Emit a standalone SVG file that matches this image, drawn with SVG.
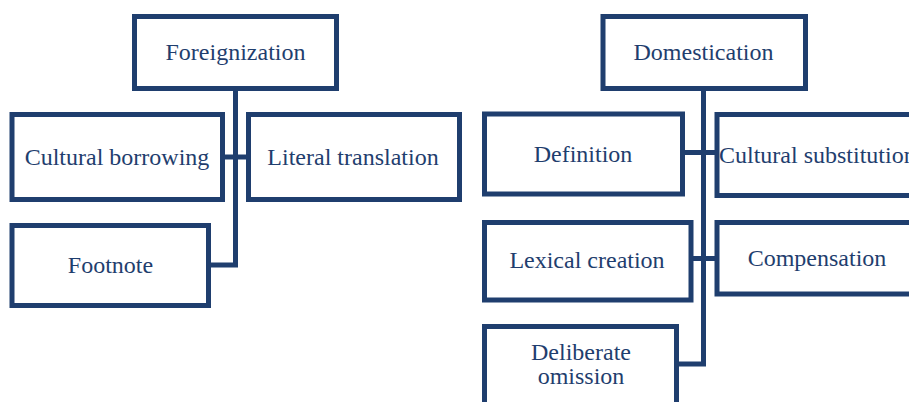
<svg xmlns="http://www.w3.org/2000/svg" width="909" height="402" viewBox="0 0 909 402">
<style>
.box{fill:#ffffff;stroke:#1f3e6e;stroke-width:5}
.ln{fill:none;stroke:#1f3e6e;stroke-width:5}
.t{font-family:"Liberation Serif","Times New Roman",serif;font-size:24px;fill:#1f3e6e;text-anchor:middle}
</style>
<rect width="909" height="402" fill="#ffffff"/>
<g id="connectors">
<path class="ln" d="M235.5 88.5 V265 H208.5"/>
<path class="ln" d="M222.5 157 H248.5"/>
<path class="ln" d="M703.5 88.5 V364 H676.5"/>
<path class="ln" d="M682.5 152.5 H717"/>
<path class="ln" d="M691 258.5 H717"/>
</g>
<g id="foreignization"><rect class="box" x="134.5" y="16.5" width="202" height="72"/><text class="t" x="235.5" y="60">Foreignization</text></g>
<g id="cultural-borrowing"><rect class="box" x="12" y="114.5" width="210.5" height="85"/><text class="t" x="117" y="165">Cultural borrowing</text></g>
<g id="literal-translation"><rect class="box" x="248.5" y="114.5" width="211" height="85"/><text class="t" x="353" y="165">Literal translation</text></g>
<g id="footnote"><rect class="box" x="12" y="225.5" width="196.5" height="80"/><text class="t" x="110.5" y="273">Footnote</text></g>
<g id="domestication"><rect class="box" x="603" y="16.5" width="202.5" height="72"/><text class="t" x="703.5" y="60">Domestication</text></g>
<g id="definition"><rect class="box" x="484.5" y="114" width="198" height="80"/><text class="t" x="583" y="162">Definition</text></g>
<g id="cultural-substitution"><rect class="box" x="717" y="114.5" width="205" height="81"/><text class="t" x="719" y="163" style="text-anchor:start">Cultural substitution</text></g>
<g id="lexical-creation"><rect class="box" x="484.5" y="222.5" width="206.5" height="77.5"/><text class="t" x="587" y="268">Lexical creation</text></g>
<g id="compensation"><rect class="box" x="717" y="222.5" width="205" height="71.5"/><text class="t" x="817" y="266">Compensation</text></g>
<g id="deliberate-omission"><rect class="box" x="484.5" y="326.5" width="192" height="100"/><text class="t" x="581" y="360">Deliberate</text><text class="t" x="581" y="384">omission</text></g>
</svg>
